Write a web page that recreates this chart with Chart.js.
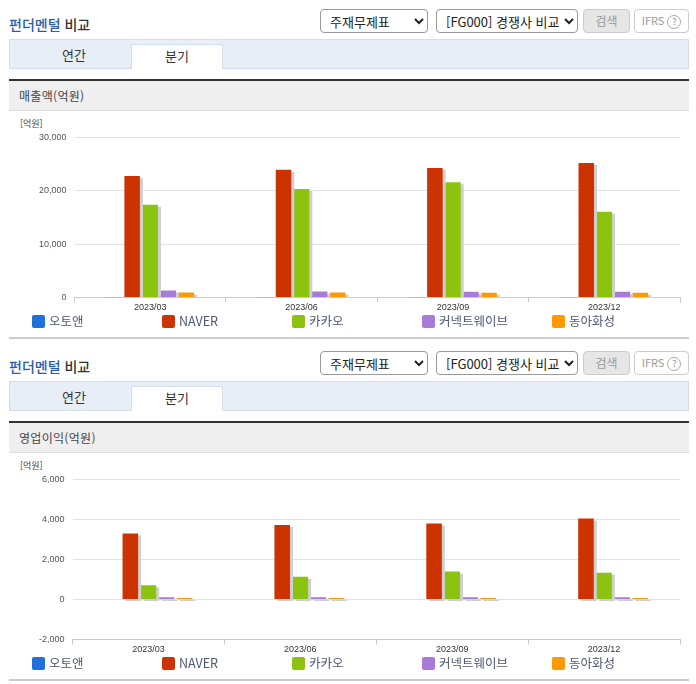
<!DOCTYPE html>
<html lang="ko">
<head>
<meta charset="utf-8">
<title>펀더멘털 비교</title>
<script src="https://cdn.jsdelivr.net/npm/chart.js@4"></script>
<style>
    html, body { margin: 0; padding: 0; background: #fff; }
    body { width: 696px; height: 684px; overflow: hidden; position: relative; font-family: "Noto Sans CJK KR", "Noto Sans", sans-serif; color: #333; }
    .block { position: absolute; left: 0; width: 696px; height: 342px; }
    .block > * { position: absolute; box-sizing: border-box; }
    .title { left: 9px; top: 14px; font-size: 14px; line-height: 20px; font-weight: 500; color: #333; }
    .title b { color: #2a5cad; font-weight: 500; }
    select { top: 9px; height: 24px; font: 13px "Noto Sans CJK KR", sans-serif; background: #fff; border: 1px solid #999; border-radius: 4px; color: #222; padding: 0 0 0 5px; }
    .sel1 { left: 320px; width: 108px; }
    .sel2 { left: 436px; width: 142px; }
    .btn { top: 9px; height: 24px; border-radius: 4px; font-size: 12px; line-height: 21px; text-align: center; color: #999; border: 1px solid #ccc; }
    .search { left: 583px; width: 47px; background: #e6e6e6; }
    .ifrs { left: 634px; width: 55px; background: #fff; font-size: 11px; }
    .ifrs span { display: inline-block; width: 12px; height: 12px; line-height: 12px; border: 1px solid #aaa; border-radius: 50%; font-size: 9px; margin-left: 3px; }
    .tabs { left: 9px; top: 39px; width: 680px; height: 30px; background: #e8eef7; border: 1px solid #d5dde9; }
    .tab { top: 43px; height: 26px; width: 92px; text-align: center; font-size: 13px; line-height: 23px; color: #333; }
    .tab.on { left: 131px; top: 44px; height: 25px; line-height: 21px; background: #fff; border: 1px solid #d5dde9; border-bottom: 0; }
    .tab.off { left: 28px; }
    .head { left: 9px; top: 79px; width: 680px; height: 32px; background: #efefef; border-top: 2px solid #333; border-bottom: 1px solid #ddd; font-size: 12px; line-height: 30px; padding-left: 10px; color: #444; letter-spacing: 0.3px; }
    .unit { left: 20px; top: 117px; font-size: 9px; line-height: 14px; color: #444; }
    canvas { left: 0; top: 112px; }
    .legend-item { top: 312px; height: 18px; font-size: 12.5px; line-height: 18px; color: #4d5770; white-space: nowrap; }
    .legend-item i { display: inline-block; width: 13px; height: 13px; border-radius: 2px; margin-right: 4px; vertical-align: -2px; }
    .rule { left: 9px; top: 337px; width: 680px; height: 2px; background: #ccc; }
</style>
</head>
<body>
<script>
const periods = ['2023/03', '2023/06', '2023/09', '2023/12'];
const companies = ['오토앤', 'NAVER', '카카오', '커넥트웨이브', '동아화성'];
const colors = ['#1f6fdc', '#cc3300', '#8cc30e', '#a97bd9', '#ff9900'];

// 매출액(억원)
const salesAutoen = [60, 60, 60, 60];
const salesNaver = [22800, 23950, 24300, 25200];
const salesKakao = [17400, 20350, 21600, 16100];
const salesConnect = [1300, 1120, 1100, 1100];
const salesDonga = [950, 930, 900, 900];

// 영업이익(억원)
const profitAutoen = [0, 0, 0, 0];
const profitNaver = [3300, 3730, 3800, 4050];
const profitKakao = [710, 1135, 1400, 1340];
const profitConnect = [110, 110, 110, 110];
const profitDonga = [70, 70, 70, 70];

const barShadow = {
    id: 'barShadow',
    beforeDatasetsDraw: function (chart) {
        const ctx = chart.ctx;
        ctx.save();
        ctx.shadowColor = '#cfcfcf';
        ctx.shadowOffsetX = 3;
        ctx.shadowOffsetY = 2;
        ctx.shadowBlur = 0;
    },
    afterDatasetsDraw: function (chart) {
        chart.ctx.restore();
    }
};

function buildBlock(top, heading, seriesValues, yMin, yMax, yStep, yAxisLeft) {
    const block = document.createElement('div');
    block.className = 'block';
    block.style.top = top + 'px';
    block.innerHTML =
        '<div class="title"><b>펀더멘털</b> 비교</div>' +
        '<select class="sel1"><option>주재무제표</option></select>' +
        '<select class="sel2"><option>[FG000] 경쟁사 비교</option></select>' +
        '<div class="btn search">검색</div>' +
        '<div class="btn ifrs">IFRS<span>?</span></div>' +
        '<div class="tabs"></div>' +
        '<div class="tab off">연간</div>' +
        '<div class="tab on">분기</div>' +
        '<div class="head">' + heading + '</div>' +
        '<div class="unit">[억원]</div>' +
        '<canvas width="696" height="201" style="width:696px;height:201px"></canvas>' +
        '<div class="rule"></div>';

    companies.forEach(function (name, i) {
        const item = document.createElement('div');
        item.className = 'legend-item';
        item.style.left = (32 + i * 130) + 'px';
        item.innerHTML = '<i style="background:' + colors[i] + '"></i>' + name;
        block.appendChild(item);
    });
    document.body.appendChild(block);

    return new Chart(block.querySelector('canvas').getContext('2d'), {
        type: 'bar',
        data: {
            labels: periods,
            datasets: companies.map(function (name, i) {
                return {
                    label: name,
                    data: seriesValues[i],
                    backgroundColor: colors[i],
                    borderWidth: 0,
                    categoryPercentage: 0.596,
                    barPercentage: 0.86,
                };
            })
        },
        options: {
            responsive: false,
            animation: false,
            devicePixelRatio: 1,
            layout: { padding: { top: 25.5, right: 16, bottom: 0, left: 0 } },
            plugins: { legend: { display: false }, tooltip: { enabled: false } },
            scales: {
                x: {
                    afterFit: function (scale) { scale.height = 15.5; },
                    border: { color: '#c3cbd9' },
                    grid: { drawOnChartArea: false, color: '#c3cbd9', tickLength: 5 },
                    ticks: {
                        color: '#333',
                        padding: 0,
                        maxRotation: 0,
                        font: { family: "'Liberation Sans', sans-serif", size: 9 },
                    }
                },
                y: {
                    min: yMin,
                    max: yMax,
                    afterFit: function (scale) { scale.width = yAxisLeft; },
                    border: { display: false },
                    grid: { color: '#e2e2e2', drawTicks: false },
                    ticks: {
                        stepSize: yStep,
                        color: '#555',
                        padding: 8,
                        font: { family: "'Liberation Sans', sans-serif", size: 9 },
                        callback: function (v) { return v.toLocaleString('en-US'); },
                    }
                }
            }
        },
        plugins: [barShadow]
    });
}

buildBlock(0, '매출액(억원)', [salesAutoen, salesNaver, salesKakao, salesConnect, salesDonga], 0, 30000, 10000, 74.5);
buildBlock(342, '영업이익(억원)', [profitAutoen, profitNaver, profitKakao, profitConnect, profitDonga], -2000, 6000, 2000, 72.5);
</script>
</body>
</html>
